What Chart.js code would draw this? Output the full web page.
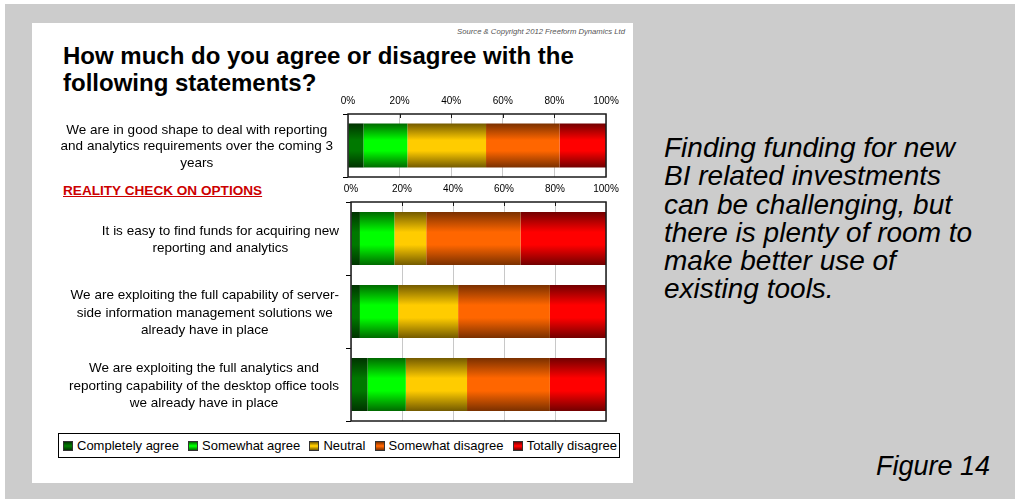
<!DOCTYPE html>
<html>
<head>
<meta charset="utf-8">
<script src="https://cdn.jsdelivr.net/npm/chart.js@4.4.1/dist/chart.umd.min.js"></script>
<style>
  body { margin: 0; width: 1015px; height: 499px; position: relative; overflow: hidden; background: #fff;
         font-family: "Liberation Sans", Arial, sans-serif; color: #000; }
  #frame { position: absolute; left: 5px; top: 4px; right: 0; bottom: 0; background: #cccccc; }
  #panel { position: absolute; left: 32px; top: 23px; width: 601px; height: 460px; background: #fff; }
  .abs { position: absolute; white-space: nowrap; }
  #source { right: 390px; top: 27px; font-size: 7.7px; line-height: 10px; font-style: italic; color: #555; }
  #title { left: 63px; top: 42px; font-size: 24px; line-height: 27px; font-weight: bold; }
  #reality { left: 63px; top: 183px; font-size: 13.6px; line-height: 16px; font-weight: bold; color: #cc0000; text-decoration: underline; }
  #note { left: 664px; top: 134px; font-size: 28px; line-height: 28.3px; font-style: italic; }
  #figure { right: 25px; top: 451px; font-size: 27px; line-height: 30px; font-style: italic; }
  canvas { position: absolute; }
  #legend { position: absolute; left: 58px; top: 433px; width: 554px; height: 23px; border: 1px solid #000;
            display: flex; align-items: center; justify-content: space-between; padding: 0 2px 0 4px;
            font-size: 13px; background: #fff; }
  #legend span { display: flex; align-items: center; }
  #legend i { display: inline-block; width: 8px; height: 8px; margin-right: 4px; border: 1px solid #333; }
</style>
</head>
<body>
<div id="frame"></div>
<div id="panel"></div>
<div id="source" class="abs">Source &amp; Copyright 2012 Freeform Dynamics Ltd</div>
<div id="title" class="abs">How much do you agree or disagree with the<br>following statements?</div>
<div id="reality" class="abs">REALITY CHECK ON OPTIONS</div>
<canvas id="outlook-chart" width="590" height="100" style="left:40px;top:86px"></canvas>
<canvas id="options-chart" width="590" height="252" style="left:40px;top:174px"></canvas>
<div id="legend"></div>
<div id="note" class="abs">Finding funding for new<br>BI related investments<br>can be challenging, but<br>there is plenty of room to<br>make better use of<br>existing tools.</div>
<div id="figure" class="abs">Figure 14</div>
<script>
const responses = ['Completely agree', 'Somewhat agree', 'Neutral', 'Somewhat disagree', 'Totally disagree'];
const percentTicks = [0, 20, 40, 60, 80, 100];

const outlookLabels = [
    ['We are in good shape to deal with reporting', 'and analytics requirements over the coming 3', 'years']
];
const optionLabels = [
    ['It is easy to find funds for acquiring new', 'reporting and analytics'],
    ['We are exploiting the full capability of server-', 'side information management solutions we', 'already have in place'],
    ['We are exploiting the full analytics and', 'reporting capability of the desktop office tools', 'we already have in place']
];

// share of answers per statement, in the order of responses
const outlookShares = [6, 17, 30.5, 28.5, 18];
const fundsShares = [3.5, 13.5, 12.5, 37, 33.5];
const serverShares = [3.5, 15, 23.5, 36, 22];
const desktopShares = [6.5, 15, 24, 32.5, 22];

// edge / middle colour of each response's shaded bar
function getShade(response) {
    if (response === 'Completely agree') {
        return ['#003300', '#007800']
    }
    if (response === 'Somewhat agree') {
        return ['#006a00', '#00ff00']
    }
    if (response === 'Neutral') {
        return ['#735a00', '#ffcc00']
    }
    if (response === 'Somewhat disagree') {
        return ['#7a3000', '#ff6600']
    }
    if (response === 'Totally disagree') {
        return ['#720000', '#ff0000']
    }
}

// vertical shading across each bar, brightest in the middle
function barFill(response, barPercentage) {
    const [edge, mid] = getShade(response);
    return context => {
        const chart = context.chart;
        const yScale = chart.scales.y;
        if (!chart.chartArea || !yScale) return mid;
        const half = (yScale.bottom - yScale.top) / chart.data.labels.length * barPercentage / 2;
        const center = yScale.getPixelForValue(context.dataIndex);
        const grad = chart.ctx.createLinearGradient(0, center - half, 0, center + half);
        grad.addColorStop(0, edge);
        grad.addColorStop(0.38, mid);
        grad.addColorStop(0.62, mid);
        grad.addColorStop(1, edge);
        return grad;
    };
}

// statement text left of the plot plus the black frame round it
const statementLabels = {
    id: 'statementLabels',
    afterDraw(chart, args, opts) {
        const ctx = chart.ctx;
        const yScale = chart.scales.y;
        const xScale = chart.scales.x;
        const area = chart.chartArea;
        ctx.save();
        ctx.font = '13.5px "Liberation Sans", Arial, sans-serif';
        ctx.fillStyle = '#000';
        ctx.textAlign = 'center';
        ctx.textBaseline = 'middle';
        const right = area.left - opts.gap;
        chart.data.labels.forEach((lines, i) => {
            const widest = Math.max(...lines.map(l => ctx.measureText(l).width));
            const cx = right - widest / 2;
            const cy = yScale.getPixelForValue(i) + opts.shift;
            lines.forEach((line, j) => {
                ctx.fillText(line, cx, cy + (j - (lines.length - 1) / 2) * opts.lineHeight);
            });
        });

        ctx.strokeStyle = '#1a1a1a';
        ctx.lineWidth = 1.5;
        ctx.strokeRect(Math.round(area.left), Math.round(area.top), Math.round(area.right - area.left), Math.round(area.bottom - area.top));
        ctx.lineWidth = 1;
        percentTicks.slice(1, -1).forEach(v => {
            const x = Math.round(xScale.getPixelForValue(v)) + 0.5;
            ctx.beginPath();
            ctx.moveTo(x, area.top);
            ctx.lineTo(x, area.top + 4);
            ctx.stroke();
        });
        ctx.restore();
    }
};

function makeChart(canvas, labels, shareRows, axisWidth, barPercentage, labelOpts) {
    return new Chart(canvas.getContext('2d'), {
        type: 'bar',
        data: {
            labels: labels,
            datasets: responses.map((response, r) => ({
                label: response,
                data: shareRows.map(row => row[r]),
                backgroundColor: barFill(response, barPercentage),
                borderWidth: 0,
                barPercentage: barPercentage,
                categoryPercentage: 1
            }))
        },
        options: {
            indexAxis: 'y',
            responsive: false,
            animation: false,
            layout: { padding: { top: 0, right: 24, bottom: canvas.height - labelOpts.plotBottom, left: 0 } },
            scales: {
                x: {
                    position: 'top',
                    stacked: true,
                    min: 0,
                    max: 100,
                    afterBuildTicks: scale => { scale.ticks = percentTicks.map(v => ({ value: v })); },
                    afterFit: scale => { scale.height = 28; },
                    border: { display: false },
                    grid: { color: '#c8c8c8', lineWidth: 1, drawTicks: false },
                    ticks: {
                        padding: 7,
                        color: '#000',
                        font: { family: '"Liberation Sans", Arial, sans-serif', size: 10 },
                        callback: v => v + '%'
                    }
                },
                y: {
                    stacked: true,
                    afterFit: scale => { scale.width = axisWidth; },
                    border: { display: false },
                    grid: { drawOnChartArea: false, drawTicks: true, tickLength: 5, color: '#000', offset: true },
                    ticks: { display: false }
                }
            },
            plugins: {
                legend: { display: false },
                tooltip: { enabled: false },
                statementLabels: labelOpts
            }
        },
        plugins: [statementLabels]
    });
}

function main() {
    const outlookCanvas = document.querySelector('#outlook-chart');
    const optionsCanvas = document.querySelector('#options-chart');

    makeChart(outlookCanvas, outlookLabels, [outlookShares], 308, 0.7,
        { gap: 15, shift: 1, lineHeight: 16.5, plotBottom: 91 });
    makeChart(optionsCanvas, optionLabels, [fundsShares, serverShares, desktopShares], 311, 0.726,
        { gap: 12, shift: 1.5, lineHeight: 17.5, plotBottom: 247 });

    // legend row under the plots
    const legend = document.querySelector('#legend');
    responses.forEach(response => {
        const [edge, mid] = getShade(response);
        const item = document.createElement('span');
        const box = document.createElement('i');
        box.style.background = `linear-gradient(${edge}, ${mid} 45%, ${mid} 55%, ${edge})`;
        item.appendChild(box);
        item.appendChild(document.createTextNode(response));
        legend.appendChild(item);
    });
}

main()
</script>
</body>
</html>
